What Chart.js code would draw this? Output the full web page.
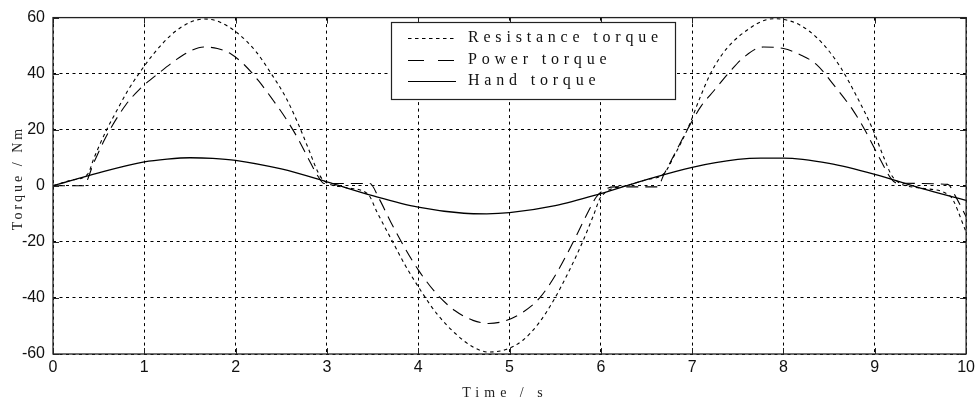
<!DOCTYPE html>
<html>
<head>
<meta charset="utf-8">
<script src="https://cdn.jsdelivr.net/npm/chart.js@4"></script>
<style>
html, body { margin: 0; padding: 0; background: #fff; }
</style>
</head>
<body>
<canvas id="torqueChart" width="979" height="406"></canvas>
<script>
// values
var xTickValues = [0, 1, 2, 3, 4, 5, 6, 7, 8, 9, 10];
var yTickValues = [-60, -40, -20, 0, 20, 40, 60];

var handT = [0, 0.5, 1, 1.25, 1.5, 1.75, 2, 2.5, 3, 3.5, 4, 4.5, 4.75, 5, 5.5, 6, 6.5, 7, 7.5, 7.75, 8, 8.5, 9, 9.5, 10];
var handY = [0, 4.6, 8.5, 9.5, 10, 9.8, 9.1, 6.0, 1.4, -3.5, -7.6, -9.8, -10, -9.6, -7.1, -2.8, 2.2, 6.6, 9.4, 9.9, 9.9, 8.0, 4.1, -0.8, -5.2];

var resT = [0, 0.2, 0.38, 0.45, 0.58, 0.71, 0.82, 0.93, 1.1, 1.3, 1.5, 1.66, 1.82, 2.02, 2.22, 2.39, 2.55, 2.68, 2.8, 2.9,
            2.96, 3.2, 3.45, 3.55, 3.72, 3.86, 4.04, 4.2, 4.4, 4.6, 4.77, 4.95, 5.15, 5.32, 5.48, 5.65, 5.8, 5.92, 6.0, 6.3,
            6.5, 6.69, 6.8, 6.96, 7.08, 7.2, 7.32, 7.45, 7.6, 7.75, 7.9, 8.05, 8.2, 8.36, 8.5, 8.63, 8.8, 8.98, 9.1, 9.2,
            9.5, 9.82, 10];
var resY = [0, 2.0, 4.2, 10, 19.5, 27.5, 34, 39.5, 47, 54, 58.3, 59.5, 58.5, 54.5, 48, 40, 31.5, 22.5, 13, 5,
            2, -0.6, -3, -9.5, -20, -28.5, -38, -45.5, -52.5, -57.5, -59.3, -58.5, -55, -49, -41, -30.5, -20, -10.5, -4, 0.2,
            2.2, 4.3, 10.5, 21, 31, 40, 46.5, 51.5, 55.5, 58.5, 59.6, 59, 57, 53, 48, 42, 32, 20, 10, 3,
            -0.8, -3.5, -16.4];

var powT = [0, 0.33, 0.45, 0.55, 0.65, 0.8, 0.95, 1.17, 1.35, 1.5, 1.65, 1.8, 1.95, 2.1, 2.25, 2.4, 2.55, 2.68, 2.8, 2.9,
            2.97, 3.47, 3.57, 3.7, 3.85, 4.0, 4.2, 4.4, 4.6, 4.77, 4.95, 5.15, 5.33, 5.5, 5.69, 5.85, 5.95, 6.05, 6.15, 6.62,
            6.69, 6.85, 6.98, 7.1, 7.24, 7.42, 7.56, 7.78, 8.0, 8.2, 8.36, 8.55, 8.76, 8.89, 9.05, 9.18, 9.24, 9.8, 9.88, 10];
var powY = [0, 0, 8.5, 15.5, 21.5, 29, 34.5, 40.5, 45, 48, 49.5, 49, 47, 43, 37.5, 31, 24, 17, 9.5, 3.5,
            0.8, 0.8, -4.5, -13, -22, -30, -38.5, -44.5, -48, -49.1, -48.2, -45, -40, -32, -20.5, -10, -4, -1.2, -0.4, -0.4,
            4, 14, 22, 28.5, 34, 41, 45.7, 49.5, 49, 46.5, 43.3, 36, 27, 20, 10, 2.5, 1, 0.5, -3.5, -11];

var seriesNames = ['Resistance torque', 'Power torque', 'Hand torque'];
var xTitle = 'Time / s';
var yTitle = 'Torque / Nm';

function toPoints(ts, vs) {
  var pts = [];
  for (var i = 0; i < ts.length; i++) pts.push({x: ts[i], y: vs[i]});
  return pts;
}

var dotDash = [3.5, 3.5];
var longDash = [12, 7];

// frame, inside tick marks, axis titles and the boxed legend (letter-spaced serif text)
var framePlugin = {
  id: 'frame',
  afterDraw: function(chart) {
    var ctx = chart.ctx, a = chart.chartArea;
    var xs = chart.scales.x, ys = chart.scales.y;
    ctx.save();
    ctx.setLineDash([]);
    ctx.strokeStyle = '#222';
    ctx.lineWidth = 1.3;
    ctx.strokeRect(a.left, a.top, a.right - a.left, a.bottom - a.top);

    ctx.lineWidth = 1;
    ctx.beginPath();
    xTickValues.forEach(function(v) {
      var px = Math.round(xs.getPixelForValue(v)) + 0.5;
      ctx.moveTo(px, a.bottom); ctx.lineTo(px, a.bottom - 6);
      ctx.moveTo(px, a.top); ctx.lineTo(px, a.top + 6);
    });
    yTickValues.forEach(function(v) {
      var py = Math.round(ys.getPixelForValue(v)) + 0.5;
      ctx.moveTo(a.left, py); ctx.lineTo(a.left + 6, py);
      ctx.moveTo(a.right, py); ctx.lineTo(a.right - 6, py);
    });
    ctx.stroke();

    // axis titles
    ctx.fillStyle = '#222';
    ctx.textAlign = 'center';
    ctx.textBaseline = 'middle';
    ctx.font = '14px "Liberation Serif"';
    ctx.letterSpacing = '5px';
    ctx.fillText(xTitle, 505, 393);
    ctx.save();
    ctx.translate(18, 178);
    ctx.rotate(-Math.PI / 2);
    ctx.letterSpacing = '3px';
    ctx.fillText(yTitle, 0, 0);
    ctx.restore();

    // legend box
    var bx = 391, by = 22, bw = 284, bh = 77;
    ctx.fillStyle = '#fff';
    ctx.fillRect(bx, by, bw, bh);
    ctx.strokeStyle = '#222';
    ctx.lineWidth = 1.2;
    ctx.strokeRect(bx + 0.5, by + 0.5, bw, bh);

    var rows = [38, 60, 81];
    var dashes = [dotDash, [16, 14], []];
    ctx.lineWidth = 1.2;
    ctx.strokeStyle = '#000';
    for (var i = 0; i < 3; i++) {
      ctx.setLineDash(dashes[i]);
      ctx.beginPath();
      ctx.moveTo(408, rows[i] + 0.5);
      ctx.lineTo(456, rows[i] + 0.5);
      ctx.stroke();
    }
    ctx.setLineDash([]);
    ctx.fillStyle = '#111';
    ctx.textAlign = 'left';
    ctx.font = '16px "Liberation Serif"';
    ctx.letterSpacing = '4.8px';
    for (var j = 0; j < 3; j++) {
      ctx.fillText(seriesNames[j], 468, rows[j]);
    }
    ctx.restore();
  }
};

var tickFont = {family: '"Liberation Sans", Arial, sans-serif', size: 16};

var ctx = document.getElementById('torqueChart');
var chart = new Chart(ctx, {
  type: 'line',
  data: {
    datasets: [
      {
        label: seriesNames[0],
        data: toPoints(resT, resY),
        borderColor: '#000',
        borderWidth: 1.1,
        borderDash: dotDash,
        pointRadius: 0,
        fill: false,
        cubicInterpolationMode: 'monotone'
      },
      {
        label: seriesNames[1],
        data: toPoints(powT, powY),
        borderColor: '#000',
        borderWidth: 1.1,
        borderDash: longDash,
        pointRadius: 0,
        fill: false,
        cubicInterpolationMode: 'monotone'
      },
      {
        label: seriesNames[2],
        data: toPoints(handT, handY),
        borderColor: '#000',
        borderWidth: 1.3,
        pointRadius: 0,
        fill: false,
        cubicInterpolationMode: 'monotone'
      }
    ]
  },
  options: {
    responsive: false,
    animation: false,
    layout: {padding: {top: 16, right: 9, left: 0, bottom: 0}},
    plugins: {legend: {display: false}, tooltip: {enabled: false}},
    scales: {
      x: {
        type: 'linear',
        min: 0,
        max: 10,
        ticks: {stepSize: 1, padding: 4, font: tickFont, color: '#111', maxRotation: 0},
        grid: {color: '#000', lineWidth: 1, drawTicks: false},
        border: {display: false, dash: [3, 3.5]},
        afterFit: function(s) { s.height = 52; }
      },
      y: {
        min: -60,
        max: 60,
        ticks: {stepSize: 20, padding: 8, font: tickFont, color: '#111'},
        grid: {color: '#000', lineWidth: 1, drawTicks: false},
        border: {display: false, dash: [3, 3.5]},
        afterFit: function(s) { s.width = 53; }
      }
    }
  },
  plugins: [framePlugin]
});
</script>
</body>
</html>
